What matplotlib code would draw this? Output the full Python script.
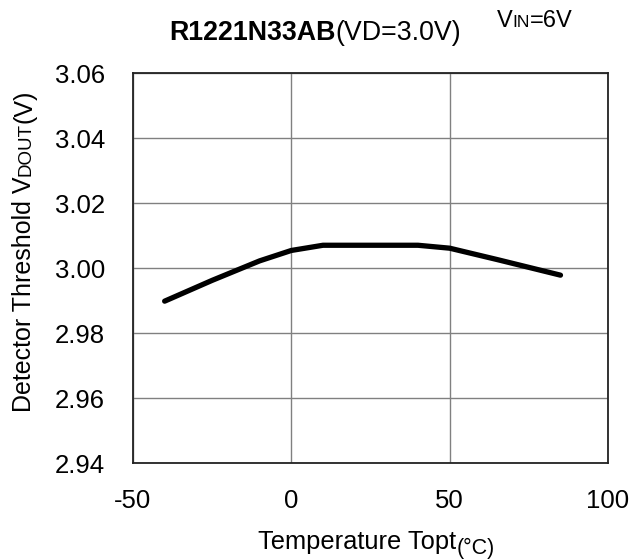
import matplotlib
matplotlib.use("Agg")
import matplotlib.pyplot as plt

plt.rcParams['font.family'] = ['Liberation Sans', 'DejaVu Sans']

# temperature (degC) and detector threshold (V)
temp = [-40, -25, -10, 0, 10, 25, 40, 50, 65, 85]
vdet = [2.9898, 2.9962, 3.0022, 3.0054, 3.0070, 3.0070, 3.0070, 3.0061, 3.0026, 2.9978]

xticks = [-50, 0, 50, 100]
yticks = [2.94, 2.96, 2.98, 3.00, 3.02, 3.04, 3.06]

fig = plt.figure(figsize=(6.32, 5.59), dpi=100)
ax = fig.add_axes([0.2104, 0.1717, 0.7516, 0.6977])

ax.plot(temp, vdet, color='black', lw=3.8, solid_capstyle='round', zorder=3)

ax.set_xlim(-50, 100)
ax.set_ylim(2.94, 3.06)
ax.set_xticks(xticks)
ax.set_xticklabels([str(t) for t in xticks])
ax.set_yticks(yticks)
ax.set_yticklabels(['%.2f' % t for t in yticks])
ax.tick_params(length=0, labelsize=18.5)
ax.tick_params(axis='y', pad=20)
ax.tick_params(axis='x', pad=19)
ax.grid(True, color='#808080', lw=1.0)

for s in ax.spines.values():
    s.set_linestyle((0, (1, 1)))
    s.set_linewidth(1.3)
    s.set_color('#222222')
    s.set_zorder(4)

fig.canvas.draw()
rend = fig.canvas.get_renderer()


def put(parts, x, y, rot=0):
    # lay out text pieces of mixed size along a line, starting at pixel (x, y)
    for txt, size, weight, dy in parts:
        if rot == 0:
            t = fig.text(x / 632, (y + dy) / 559, txt, fontsize=size,
                         fontweight=weight, ha='left', va='baseline')
            x += t.get_window_extent(rend).width
        else:
            t = fig.text((x - dy) / 632, y / 559, txt, fontsize=size,
                         fontweight=weight, ha='left', va='baseline',
                         rotation=90, rotation_mode='anchor')
            y += t.get_window_extent(rend).height


put([('R1221N33AB', 19.3, 'bold', 0), ('(VD=3.0V)', 19.3, 'normal', 0)], 169, 559 - 40)
put([('V', 17, 'normal', 0), ('IN', 12.5, 'normal', 0), ('=6V', 17, 'normal', 0)], 497, 559 - 27)
put([('Detector Threshold V', 18, 'normal', 0), ('DOUT', 13.5, 'normal', 0),
     ('(V)', 18, 'normal', 0)], 31, 559 - 412, rot=90)
put([('Temperature Topt', 18.4, 'normal', 0), ('(°C)', 15.5, 'normal', -5)], 258, 559 - 549)

fig.savefig('out.png', dpi=100)
